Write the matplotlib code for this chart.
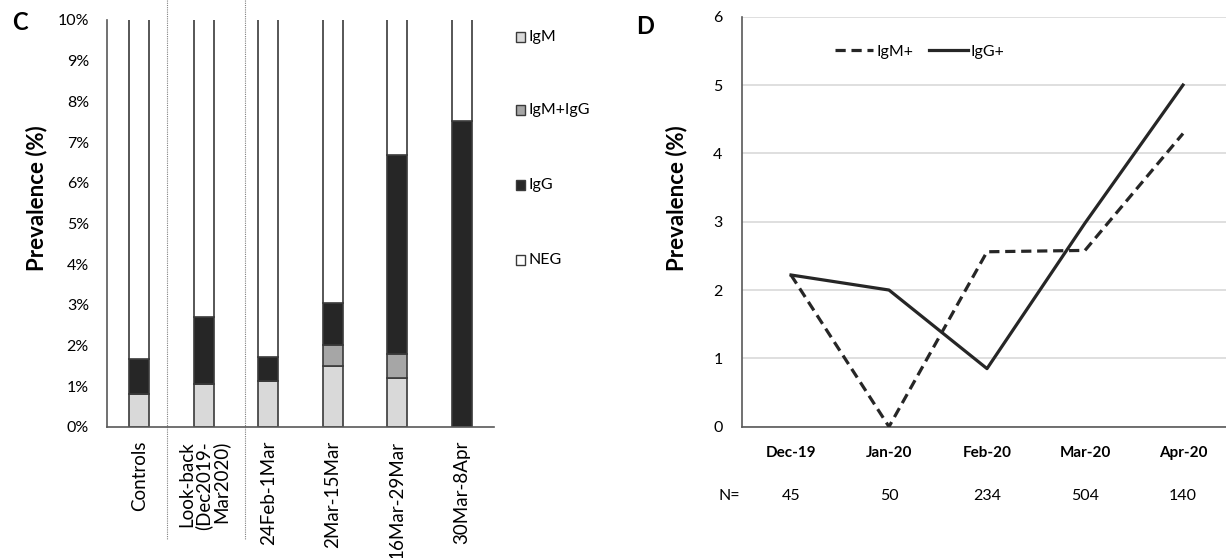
import matplotlib
matplotlib.use("Agg")
import matplotlib.pyplot as plt
import numpy as np
from matplotlib.transforms import blended_transform_factory
from matplotlib.patches import Rectangle
from matplotlib.lines import Line2D

plt.rcParams['font.family'] = ['Lato', 'DejaVu Sans']

# ---- Panel C data ----
periods = ["Controls", "Look-back\n(Dec2019-\nMar2020)", "24Feb-1Mar",
           "2Mar-15Mar", "16Mar-29Mar", "30Mar-8Apr"]
igm = [0.80, 1.06, 1.13, 1.51, 1.21, 0.00]
igm_igg = [0.00, 0.00, 0.00, 0.50, 0.58, 0.00]
igg = [0.86, 1.65, 0.60, 1.04, 4.89, 7.53]
neg = [100 - a - b - c for a, b, c in zip(igm, igm_igg, igg)]
c_yticks = [0, 1, 2, 3, 4, 5, 6, 7, 8, 9, 10]
c_legend = ["IgM", "IgM+IgG", "IgG", "NEG"]

# ---- Panel D data ----
months = ["Dec-19", "Jan-20", "Feb-20", "Mar-20", "Apr-20"]
igm_pos = [2.22, 0.00, 2.56, 2.58, 4.29]
igg_pos = [2.22, 2.00, 0.85, 2.98, 5.00]
n_counts = ["45", "50", "234", "504", "140"]
d_yticks = [0, 1, 2, 3, 4, 5, 6]

colors = ["#d9d9d9", "#a6a6a6", "#262626", "#ffffff"]
edge = "#3a3a3a"

W, H = 1226, 558
fig = plt.figure(figsize=(W/100, H/100), dpi=100)

# ================= Panel C =================
axc = fig.add_axes([107/W, 1-427/H, 387/W, 407/H])
x = np.arange(len(periods))
bottom = np.zeros(len(periods))
for vals, col in zip([igm, igm_igg, igg, neg], colors):
    v = np.array(vals)
    axc.bar(x, v, bottom=bottom, width=0.31, color=col, edgecolor=edge,
            linewidth=1.2, zorder=2)
    bottom += v
axc.set_xlim(-0.5, len(periods) - 0.5)
axc.set_ylim(0, 10)
axc.set_yticks(c_yticks)
axc.set_yticklabels([f"{t}%" for t in c_yticks], fontsize=11.5)
axc.set_xticks(x)
axc.set_xticklabels(periods, rotation=90, fontsize=13.5, va='top', ha='center')
for lbl in axc.get_xticklabels():
    lbl.set_multialignment('right')
    lbl.set_linespacing(0.95)
axc.tick_params(axis='both', length=0)
axc.tick_params(axis='y', pad=13)
axc.tick_params(axis='x', pad=10)
for s in ['top', 'right']:
    axc.spines[s].set_visible(False)
for s in ['left', 'bottom']:
    axc.spines[s].set_color('#595959')
    axc.spines[s].set_linewidth(1.2)
axc.set_ylabel("Prevalence (%)", fontsize=16, fontweight='bold', va='center')
axc.yaxis.set_label_coords((37-107)/387, (427-198)/407)

# dotted separators
tr = blended_transform_factory(axc.transData, fig.transFigure)
for xs in [0.43, 1.64]:
    axc.add_line(Line2D([xs, xs], [1.0, 1 - 540/H], transform=tr,
                        color='#808080', linestyle=(0, (1, 1)), linewidth=0.8,
                        clip_on=False))

fig.text(12/W, 1-23/H, "C", fontsize=17, fontweight='bold', va='center')

# legend C (manual)
leg_y = [37, 110, 185, 260]
for lab, col, yy in zip(c_legend, colors, leg_y):
    fig.patches.append(Rectangle((516/W, 1-(yy+5)/H), 9/W, 10/H,
                                 facecolor=col, edgecolor=edge, linewidth=1.0,
                                 transform=fig.transFigure))
    fig.text(528/W, 1-yy/H, lab, fontsize=11.5, va='center', ha='left')

# ================= Panel D =================
axd = fig.add_axes([742/W, 1-426.7/H, (W-742)/W, 410/H])
xm = np.arange(len(months))
axd.plot(xm, igm_pos, color='#262626', linestyle=(0, (3.2, 1.8)), linewidth=2.3,
         label="IgM+", zorder=3)
axd.plot(xm, igg_pos, color='#262626', linestyle='-', linewidth=2.3,
         label="IgG+", zorder=3)
axd.set_xlim(-0.5, -0.5 + (W-742)/98)
axd.set_ylim(0, 6)
axd.set_yticks(d_yticks)
axd.set_yticklabels([str(t) for t in d_yticks], fontsize=11.5)
axd.grid(axis='y', color='#d9d9d9', linewidth=1.2, zorder=0)
axd.set_axisbelow(True)
axd.set_xticks(xm)
axd.set_xticklabels(months, fontsize=11, fontweight='bold')
axd.tick_params(axis='both', length=0)
axd.tick_params(axis='x', pad=14)
axd.tick_params(axis='y', pad=14)
for s in ['top', 'right']:
    axd.spines[s].set_visible(False)
for s in ['left', 'bottom']:
    axd.spines[s].set_color('#595959')
    axd.spines[s].set_linewidth(1.2)
axd.set_ylabel("Prevalence (%)", fontsize=16, fontweight='bold', va='center')
axd.yaxis.set_label_coords((677-742)/(W-742), (426.7-198)/410)

# N= row
trd = blended_transform_factory(axd.transData, fig.transFigure)
fig.text(719/W, 1-496/H, "N=", fontsize=11.5, ha='left', va='center')
for xi, n in zip(xm, n_counts):
    axd.text(xi, 1-496/H, n, transform=trd, fontsize=11.5, ha='center',
             va='center')

axd.legend(loc='center left', bbox_to_anchor=((835-742)/(W-742), 1-(52-16.7)/410),
           ncol=2, frameon=False, fontsize=11.5, handlelength=2.4,
           handletextpad=0.2, columnspacing=1.0, borderaxespad=0, borderpad=0)

fig.text(636/W, 1-27/H, "D", fontsize=17, fontweight='bold', va='center')

fig.savefig("out.png", dpi=100)
